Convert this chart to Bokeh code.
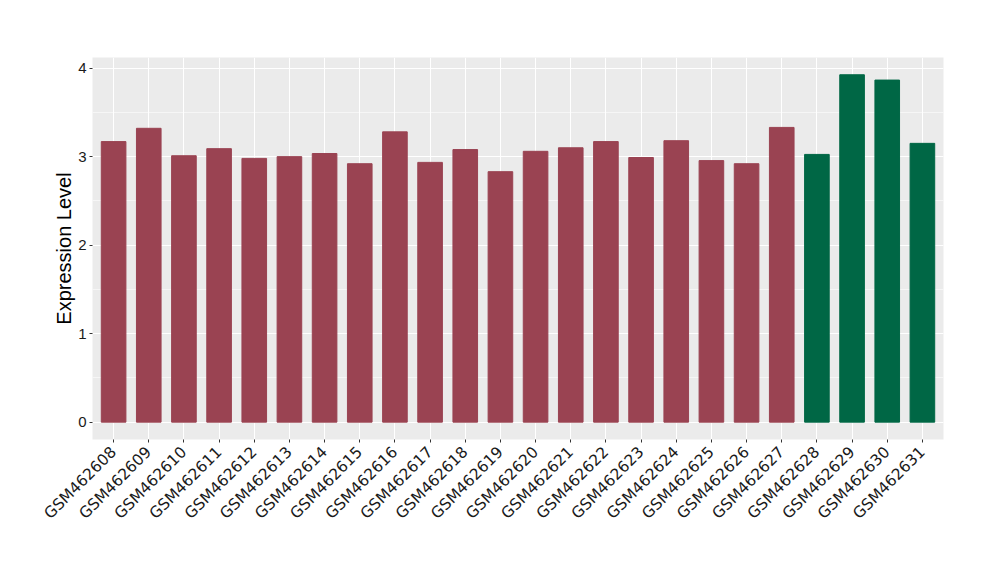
import math
from bokeh.plotting import figure
from bokeh.models import FactorRange, Range1d, ColumnDataSource, SingleIntervalTicker
from bokeh.embed import file_html
from bokeh.resources import INLINE

samples = ["GSM462608", "GSM462609", "GSM462610", "GSM462611", "GSM462612",
           "GSM462613", "GSM462614", "GSM462615", "GSM462616", "GSM462617",
           "GSM462618", "GSM462619", "GSM462620", "GSM462621", "GSM462622",
           "GSM462623", "GSM462624", "GSM462625", "GSM462626", "GSM462627",
           "GSM462628", "GSM462629", "GSM462630", "GSM462631"]
values = [3.17, 3.32, 3.01, 3.09, 2.98, 3.00, 3.035, 2.92, 3.28, 2.935,
          3.08, 2.83, 3.06, 3.10, 3.17, 2.99, 3.18, 2.955, 2.92, 3.33,
          3.025, 3.925, 3.865, 3.15]
groups = ["control"] * 20 + ["treated"] * 4
group_colors = {"control": "#9A4352", "treated": "#006745"}

colors = [group_colors[g] for g in groups]
source = ColumnDataSource(dict(x=samples, top=values, color=colors))

p = figure(width=984, height=564, output_backend="svg", toolbar_location=None,
           x_range=FactorRange(*samples, range_padding=0.2 / 24),
           y_range=Range1d(-0.196, 4.12),
           min_border_left=92, min_border_right=41, min_border_top=57,
           min_border_bottom=125)

p.vbar(x="x", top="top", bottom=0, width=0.7, color="color", source=source)

p.background_fill_color = "#EBEBEB"
p.border_fill_color = "white"
p.outline_line_color = None

p.yaxis.ticker = SingleIntervalTicker(interval=1, num_minor_ticks=2)
p.ygrid.grid_line_color = "white"
p.ygrid.grid_line_width = 1.1
p.ygrid.minor_grid_line_color = "white"
p.ygrid.minor_grid_line_width = 0.55
p.xgrid.grid_line_color = "white"
p.xgrid.grid_line_width = 1.1

for ax in (p.xaxis, p.yaxis):
    ax.axis_line_color = None
    ax.major_tick_line_color = "#333333"
    ax.major_tick_out = 3
    ax.major_tick_in = 0
    ax.minor_tick_line_color = None
    ax.major_label_text_color = "#1A1A1A"

p.yaxis.major_label_text_font = "Liberation Sans"
p.yaxis.major_label_text_font_size = "15px"
p.yaxis.major_label_standoff = 2
p.yaxis.axis_label = "Expression Level"
p.yaxis.axis_label_text_font = "Liberation Sans"
p.yaxis.axis_label_text_font_size = "20px"
p.yaxis.axis_label_text_font_style = "normal"
p.yaxis.axis_label_text_color = "black"
p.yaxis.axis_label_standoff = 0

p.xaxis.major_label_orientation = math.pi / 4
p.xaxis.major_label_text_font = "DejaVu Sans"
p.xaxis.major_label_text_font_size = "15.5px"
p.xaxis.major_label_standoff = 7

open("out.html", "w").write(file_html(p, INLINE))
